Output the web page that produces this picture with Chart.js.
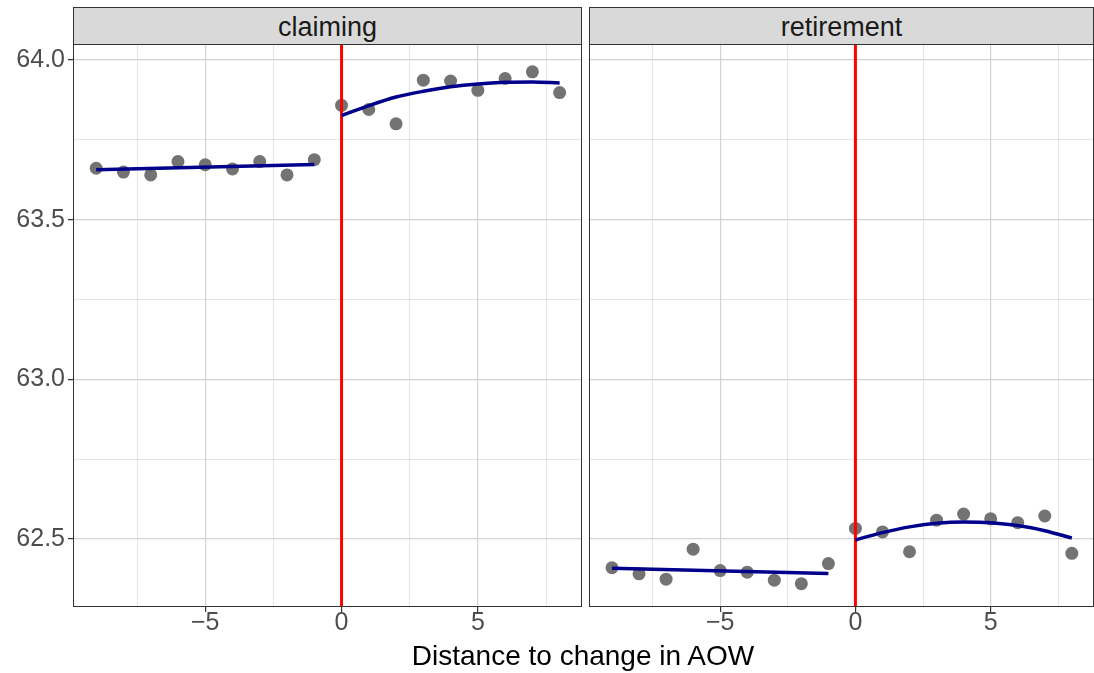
<!DOCTYPE html>
<html><head><meta charset="utf-8">
<script src="https://cdn.jsdelivr.net/npm/chart.js@4"></script>
<style>
body{margin:0;background:#fff;font-family:"Liberation Sans",Arial,sans-serif;}
.strip{position:absolute;top:7px;height:38px;background:#d9d9d9;border:1px solid #333;box-sizing:border-box;font-size:27px;text-align:center;line-height:38px;color:#1a1a1a;}
.frame{position:absolute;top:44px;height:563px;border:1px solid #333;box-sizing:border-box;pointer-events:none;}
canvas{position:absolute;}
#xl{position:absolute;top:640px;left:0;width:1166px;text-align:center;font-size:28px;color:#000;}
</style></head>
<body>
<div style="position:absolute;left:0;top:45px;width:582px;height:600px"><canvas id="c1"></canvas></div>
<div style="position:absolute;left:589px;top:45px;width:505px;height:600px"><canvas id="c2"></canvas></div>
<div class="strip" style="left:73px;width:509px">claiming</div>
<div class="strip" style="left:589px;width:505px">retirement</div>
<div class="frame" style="left:73px;width:509px"></div>
<div class="frame" style="left:589px;width:505px"></div>
<div id="xl">Distance to change in AOW</div>
<script>
var xLeft = [-9, -8, -7, -6, -5, -4, -3, -2, -1];
var xRight = [0, 1, 2, 3, 4, 5, 6, 7, 8];
var claimLeft = [63.661, 63.649, 63.640, 63.682, 63.672, 63.659, 63.682, 63.640, 63.688];
var claimRight = [63.858, 63.845, 63.800, 63.937, 63.934, 63.905, 63.942, 63.963, 63.898];
var claimFitLeft = [63.656, 63.673];
var claimFitRight = [63.826, 63.857, 63.884, 63.902, 63.916, 63.925, 63.930, 63.931, 63.928];
var retLeft = [62.410, 62.391, 62.374, 62.468, 62.401, 62.396, 62.371, 62.360, 62.423];
var retRight = [62.533, 62.522, 62.460, 62.559, 62.578, 62.563, 62.551, 62.572, 62.455];
var retFitLeft = [62.408, 62.392];
var retFitRight = [62.497, 62.520, 62.538, 62.549, 62.553, 62.551, 62.542, 62.526, 62.503];
var yTicks = [62.5, 62.75, 63.0, 63.25, 63.5, 63.75, 64.0];
var xTicks = [-7.5, -5, -2.5, 0, 2.5, 5, 7.5];
var yMin = 62.287, yMax = 64.047, xMin = -9.85, xMax = 8.82;

function pts(xs, ys) { return xs.map(function (x, i) { return {x: x, y: ys[i]}; }); }
function half(v) { return Math.abs(v * 2 - Math.round(v * 2)) < 1e-6; }

function makeChart(id, left, right, fitL, fitR, showY) {
    new Chart(id, {
        type: 'scatter',
        data: {datasets: [
            {data: pts(xLeft, left).concat(pts(xRight, right)), backgroundColor: '#737373', borderWidth: 0, pointRadius: 6.5, order: 3},
            {type: 'line', data: [{x: 0, y: yMin}, {x: 0, y: yMax}], borderColor: '#ff0000', borderWidth: 3, pointRadius: 0, order: 2},
            {type: 'line', data: [{x: -9, y: fitL[0]}, {x: -1, y: fitL[1]}], borderColor: '#00008b', borderWidth: 3.5, pointRadius: 0, order: 1},
            {type: 'line', data: pts(xRight, fitR), borderColor: '#00008b', borderWidth: 3.5, pointRadius: 0, cubicInterpolationMode: 'monotone', order: 1}
        ]},
        options: {
            responsive: true, maintainAspectRatio: false, animation: false,
            layout: {padding: 0, autoPadding: false},
            plugins: {legend: {display: false}, tooltip: {enabled: false}},
            scales: {
                x: {
                    type: 'linear', min: xMin, max: xMax,
                    afterBuildTicks: function (s) { s.ticks = xTicks.map(function (v) { return {value: v}; }); },
                    afterFit: function (s) { s.height = 38; s.paddingLeft = 0; s.paddingRight = 0; },
                    ticks: {autoSkip: false, maxRotation: 0, color: '#4d4d4d', font: {size: 25, family: 'Liberation Sans'}, padding: -4,
                        callback: function (v) { return v % 5 === 0 ? String(v).replace('-', '\u2212') : ''; }},
                    grid: {color: '#d3d3d3', lineWidth: function (c) { return c.tick && c.tick.value % 5 === 0 ? 1.2 : 0.6; },
                        tickLength: 5, tickColor: function (c) { return c.tick && c.tick.value % 5 === 0 ? '#333' : 'rgba(0,0,0,0)'; }},
                    border: {display: false}
                },
                y: {
                    type: 'linear', min: yMin, max: yMax,
                    afterBuildTicks: function (s) { s.ticks = yTicks.map(function (v) { return {value: v}; }); },
                    afterFit: function (s) { s.width = showY ? 73 : 0; s.paddingTop = 0; s.paddingBottom = 0; },
                    ticks: {display: showY, autoSkip: false, color: '#4d4d4d', font: {size: 25, family: 'Liberation Sans'}, padding: 3,
                        callback: function (v) { return half(v) ? v.toFixed(1) : ''; }},
                    grid: {color: '#d3d3d3', lineWidth: function (c) { return c.tick && half(c.tick.value) ? 1.2 : 0.6; },
                        tickLength: showY ? 5 : 0, tickColor: function (c) { return c.tick && half(c.tick.value) ? '#333' : 'rgba(0,0,0,0)'; }},
                    border: {display: false}
                }
            }
        }
    });
}
makeChart('c1', claimLeft, claimRight, claimFitLeft, claimFitRight, true);
makeChart('c2', retLeft, retRight, retFitLeft, retFitRight, false);
</script>
</body></html>
